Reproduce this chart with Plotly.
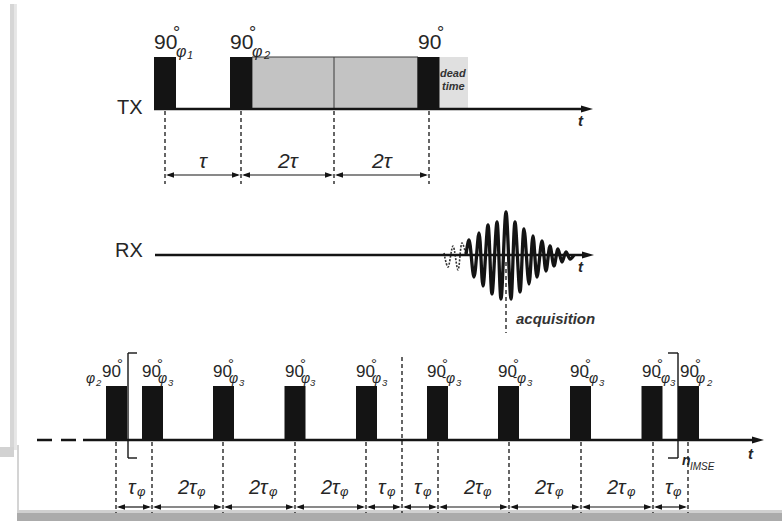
import plotly.graph_objects as go

W, H = 782, 521

# ---------------- data (diagram time axis) ----------------
# TX channel
tx_pulse_centers = [165, 241, 428.5]
tx_pulse_phase = ["1", "2", ""]
tx_marks = [165, 241, 334, 429]
tx_interval_labels = ["τ", "2τ", "2τ"]
tx_lock_block = [252, 418]
tx_lock_divider = 334
tx_dead_time = [439, 468]
tx_axis_end = 593

# RX channel (echo extrema: time, amplitude)
rx_dotted_x = [444, 448, 453, 458, 462, 466]
rx_dotted_amp = [2, -12, 9, -15, 12, 0]
rx_echo_x = [466, 469, 474, 479, 483, 488, 492, 497, 501, 506, 511, 515, 520,
             524, 529, 533, 537, 542, 546, 550, 554, 558, 562, 566, 570, 574]
rx_echo_amp = [0, 15, -22, 22, -31, 30, -39, 33, -44, 43, -44, 33, -37,
               26, -29, 19, -22, 14, -16, 9, -11, 6, -7, 3, -4, 0]
rx_acq_time = 506
rx_axis_start = 155
rx_axis_end = 594

# IMSE train
imse_pulse_centers = [116.5, 152.5, 223.5, 295, 366.5, 437.5, 508.5, 580.5, 652, 688.5]
imse_phase = ["φ2", "φ3", "φ3", "φ3", "φ3", "-φ3", "-φ3", "-φ3", "-φ3", "φ2"]
imse_marks = [116, 152, 223, 295, 366, 402, 438, 509, 581, 653, 688]
imse_interval_labels = ["τφ", "2τφ", "2τφ", "2τφ", "τφ", "τφ", "2τφ", "2τφ", "2τφ", "τφ"]
imse_half_mark = 402
imse_loop = [128, 678]
imse_axis_start = 37
imse_solid_start = 83
imse_axis_end = 764

# ---------------- styling ----------------
INK = "#141414"
TXT = "#262626"
NARROW = "Liberation Sans Narrow, Liberation Sans, Arial, sans-serif"
SANS = "Liberation Sans, Arial, sans-serif"

TX_Y0, TX_TOP, TX_HW = 109, 57, 11
RX_Y0 = 255
IM_Y0, IM_TOP, IM_HW = 440, 386, 10.5

shapes = []
ann = []


def line(x0, y0, x1, y1, w=1.3, color=INK, dash=None):
    d = dict(type="line", x0=x0, y0=y0, x1=x1, y1=y1, xref="x", yref="y",
             line=dict(color=color, width=w))
    if dash:
        d["line"]["dash"] = dash
    shapes.append(d)


def rect(x0, y0, x1, y1, fill, lw=0, lc=INK):
    shapes.append(dict(type="rect", x0=x0, y0=y0, x1=x1, y1=y1, xref="x", yref="y",
                       fillcolor=fill, line=dict(width=lw, color=lc)))


def head(xt, y, direction, L=8, w=5.5, color=INK):
    xb = xt - direction * L
    shapes.append(dict(type="path", xref="x", yref="y",
                       path=f"M {xt},{y} L {xb},{y - w / 2} L {xb},{y + w / 2} Z",
                       fillcolor=color, line=dict(width=0)))


def txt(x, y, s, size, family=SANS, xanchor="left", color=TXT, italic=False, bold=False):
    ann.append(dict(x=x, y=y, xref="x", yref="y", text=s, showarrow=False,
                    font=dict(size=size, color=color, family=family,
                              style="italic" if italic else "normal",
                              weight="bold" if bold else "normal"),
                    xanchor=xanchor, yanchor="middle", borderpad=0))


def dim_arrows(marks, labels, y_arrow, y_label, size, sub=False):
    for a, b, lab in zip(marks[:-1], marks[1:], labels):
        line(a + 3, y_arrow, b - 3, y_arrow, w=1.2)
        head(a + 1, y_arrow, -1)
        head(b - 1, y_arrow, 1)
        mid = (a + b) / 2
        if sub:
            main = lab[:-1]
            xr = mid + (11 if len(main) > 1 else 4)
            txt(xr, y_label, main, size, xanchor="right", italic=True)
            txt(xr - 2.5, y_label + 4, lab[-1], size * 0.65, italic=True)
        else:
            txt(mid, y_label, lab, size, xanchor="center", italic=True)


# ---------------- frame decoration ----------------
rect(10, 4, 16.5, 450, "#d6d6d6")
rect(14, 4, 16.5, 450, "#e6e6e6")
rect(0, 447, 14, 457, "#d2d2d2")
line(18, 445, 18, 514, w=2, color="#d4d4d4")
rect(17, 510, W, 513, "#d0d0d0")
rect(17, 513, W, H, "#ababab")

# ---------------- TX ----------------
rect(tx_lock_block[0], TX_TOP, tx_lock_block[1], TX_Y0, "#c3c3c3", lw=1, lc="#3a3a3a")
line(tx_lock_divider, TX_TOP, tx_lock_divider, TX_Y0, w=1, color="#3a3a3a")
rect(tx_dead_time[0], TX_TOP, tx_dead_time[1], TX_Y0, "#e0e0e0")
line(tx_pulse_centers[0] - TX_HW, TX_Y0, tx_axis_end - 8, TX_Y0, w=2.5)
head(tx_axis_end, TX_Y0, 1, L=12, w=7)
for c, ph in zip(tx_pulse_centers, tx_pulse_phase):
    pl = c - TX_HW
    rect(pl, TX_TOP, c + TX_HW, TX_Y0 + 1, INK)
    txt(pl - 1, 41, "90", 21, family=NARROW)
    txt(pl + 18, 33, "°", 18)
    if ph:
        txt(pl + 21, 51, "φ", 16, italic=True)
        txt(pl + 32, 55, ph, 11, italic=True)
txt(453, 73, "dead", 11, xanchor="center", color="#333", italic=True, bold=True)
txt(453, 86, "time", 11, xanchor="center", color="#333", italic=True, bold=True)
txt(144, 107, "TX", 20, xanchor="right")
txt(577, 120, "t", 15, italic=True, bold=True)
for m in tx_marks:
    line(m, TX_Y0 + 2, m, 184, w=1.3, dash="4px,3px")
dim_arrows(tx_marks, tx_interval_labels, 175, 160, 21)

# ---------------- RX ----------------
line(rx_axis_start, RX_Y0, rx_axis_end - 8, RX_Y0, w=2.5)
head(rx_axis_end, RX_Y0, 1, L=12, w=7)
txt(144, 250, "RX", 20, xanchor="right")
line(rx_acq_time, 262, rx_acq_time, 333, w=1.3, dash="4px,3px")
fig = go.Figure()
fig.add_trace(go.Scatter(x=rx_dotted_x, y=[RX_Y0 - a for a in rx_dotted_amp],
                         mode="lines", line=dict(color="#333", width=1.6, dash="2px,1.5px",
                                                 shape="spline", smoothing=1.0),
                         hoverinfo="skip", showlegend=False))
fig.add_trace(go.Scatter(x=rx_echo_x, y=[RX_Y0 - a for a in rx_echo_amp],
                         mode="lines", line=dict(color=INK, width=3.3, shape="spline", smoothing=1.0),
                         hoverinfo="skip", showlegend=False))
txt(577, 266, "t", 15, italic=True, bold=True)
txt(515, 318, "acquisition", 15, color="#333", italic=True, bold=True)

# ---------------- IMSE ----------------
line(imse_axis_start, IM_Y0, imse_solid_start, IM_Y0, w=2.5, dash="15px,9px")
line(imse_solid_start, IM_Y0, imse_axis_end - 8, IM_Y0, w=2.5)
head(imse_axis_end, IM_Y0, 1, L=12, w=7)
for i, (c, ph) in enumerate(zip(imse_pulse_centers, imse_phase)):
    pl = c - IM_HW
    rect(pl, IM_TOP, c + IM_HW, IM_Y0 + 1, INK)
    digit = ph[-1]
    if i == 0:
        txt(pl - 21, 378, "φ", 14, italic=True)
        txt(pl - 12, 382, digit, 9.5, italic=True)
        txt(pl - 5, 371, "90", 17, family=NARROW)
        txt(pl + 10, 363, "°", 15)
    else:
        off = 2 if i == len(imse_pulse_centers) - 1 else 0
        txt(pl + off - 1, 371, "90", 17, family=NARROW)
        txt(pl + off + 14, 363, "°", 15)
        x = pl + off + 15
        if ph.startswith("-"):
            txt(x - 1, 376, "-", 13)
            x += 3
        txt(x, 378, "φ", 14, italic=True)
        txt(x + 9.5, 382, digit, 9.5, italic=True)

# loop brackets
l0, l1 = imse_loop
line(l0, 353, l0, 458, w=1.4)
line(l0, 353, l0 + 9, 353, w=1.4)
line(l0, 458, l0 + 9, 458, w=1.4)
line(l1, 353, l1, 458, w=1.4)
line(l1 - 10, 353, l1, 353, w=1.4)
line(l1 - 10, 458, l1, 458, w=1.4)
txt(681, 460, "n", 14, italic=True, bold=True)
txt(689, 466, "IMSE", 10, italic=True)
txt(747, 453, "t", 15, italic=True, bold=True)

for m in imse_marks:
    top = 357 if m == imse_half_mark else IM_Y0 + 2
    line(m, top, m, 513, w=1.3, dash="4px,3px")
dim_arrows(imse_marks, imse_interval_labels, 507, 487, 20, sub=True)

fig.update_layout(
    width=W, height=H, margin=dict(l=0, r=0, t=0, b=0),
    paper_bgcolor="white", plot_bgcolor="white",
    xaxis=dict(range=[0, W], visible=False, fixedrange=True),
    yaxis=dict(range=[H, 0], visible=False, fixedrange=True),
    shapes=shapes, annotations=ann, showlegend=False,
)
fig.write_html("out.html")
